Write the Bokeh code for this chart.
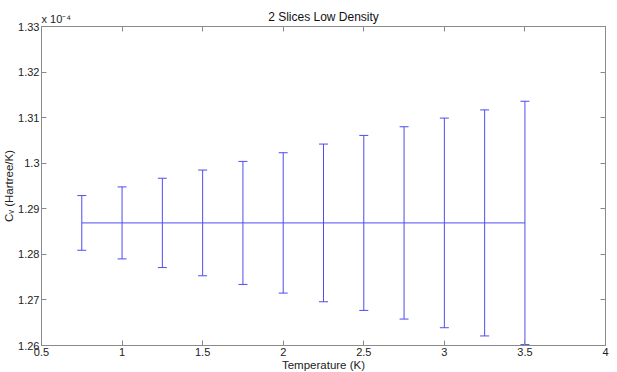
from bokeh.plotting import figure
from bokeh.models import (Range1d, FixedTicker, LinearAxis, Whisker, TeeHead,
                          ColumnDataSource, Label)
from bokeh.embed import file_html
from bokeh.resources import INLINE

# ---- data (Cv in units of 1e-4 Hartree/K) ----
temperature = [0.75, 1.0, 1.25, 1.5, 1.75, 2.0, 2.25, 2.5, 2.75, 3.0, 3.25, 3.5]
cv_mean = [1.2869] * 12
cv_err = [0.0060, 0.0079, 0.0098, 0.0116, 0.0135, 0.0154,
          0.0173, 0.0192, 0.0211, 0.0230, 0.0248, 0.0267]

x_ticks = [0.5, 1.0, 1.5, 2.0, 2.5, 3.0, 3.5, 4.0]
x_tick_labels = ["0.5", "1", "1.5", "2", "2.5", "3", "3.5", "4"]
y_ticks = [1.26, 1.27, 1.28, 1.29, 1.30, 1.31, 1.32, 1.33]
y_tick_labels = ["1.26", "1.27", "1.28", "1.29", "1.3", "1.31", "1.32", "1.33"]

X_MIN, X_MAX = 0.5, 4.0
Y_MIN, Y_MAX = 1.26, 1.33

FONT = "Liberation Sans"
AXIS_COLOR = "#8a8a8a"
LINE_COLOR = "#4d4df0"
TEXT_COLOR = "#222222"

src = ColumnDataSource(dict(
    x=temperature,
    y=cv_mean,
    upper=[m + e for m, e in zip(cv_mean, cv_err)],
    lower=[m - e for m, e in zip(cv_mean, cv_err)],
))

p = figure(frame_width=564, frame_height=319, output_backend="svg", toolbar_location=None,
           x_range=Range1d(X_MIN, X_MAX), y_range=Range1d(Y_MIN, Y_MAX),
           min_border_left=38, min_border_right=7, min_border_top=15,
           min_border_bottom=22)

p.xgrid.visible = False
p.ygrid.visible = False
p.outline_line_color = AXIS_COLOR
p.background_fill_color = "white"
p.border_fill_color = "white"


def style_axis(ax, ticks, labels, show_labels=True):
    ax.ticker = FixedTicker(ticks=ticks)
    ax.major_label_overrides = dict(zip(ticks, labels))
    ax.axis_line_color = AXIS_COLOR
    ax.major_tick_line_color = AXIS_COLOR
    ax.major_tick_in = 5
    ax.major_tick_out = 0
    ax.minor_tick_line_color = None
    ax.major_label_text_font = FONT
    ax.major_label_text_color = TEXT_COLOR
    if show_labels:
        ax.major_label_text_font_size = "11px"
        ax.major_label_standoff = 2
    else:
        ax.major_label_text_font_size = "0px"
        ax.major_label_standoff = 0


style_axis(p.xaxis[0], x_ticks, x_tick_labels)
style_axis(p.yaxis[0], y_ticks, y_tick_labels)
p.xaxis.axis_label = "Temperature (K)"
p.yaxis.axis_label = "Cᵥ (Hartree/K)"
for ax in (p.xaxis[0], p.yaxis[0]):
    ax.axis_label_text_font = FONT
    ax.axis_label_text_font_size = "11.5px"
    ax.axis_label_text_font_style = "normal"
    ax.axis_label_text_color = TEXT_COLOR
    ax.axis_label_standoff = 0

top_ax = LinearAxis()
style_axis(top_ax, x_ticks, x_tick_labels, show_labels=False)
p.add_layout(top_ax, "above")
right_ax = LinearAxis()
style_axis(right_ax, y_ticks, y_tick_labels, show_labels=False)
p.add_layout(right_ax, "right")

# mean line
p.line("x", "y", source=src, line_color=LINE_COLOR, line_width=1)

# error bars
p.add_layout(Whisker(source=src, base="x", upper="upper", lower="lower",
                     line_color=LINE_COLOR, line_width=1,
                     upper_head=TeeHead(size=9, line_color=LINE_COLOR, line_width=1),
                     lower_head=TeeHead(size=9, line_color=LINE_COLOR, line_width=1)))

# title, centred over the frame, just above its top edge
p.add_layout(Label(x=(X_MIN + X_MAX) / 2, y=Y_MAX, text="2 Slices Low Density",
                   y_offset=3, text_font=FONT, text_font_size="12px",
                   text_color="#111111", text_baseline="bottom",
                   text_align="center"), "above")
# exponent multiplier (x 10^-4) above the top-left corner
p.add_layout(Label(x=X_MIN, y=Y_MAX, text="x 10⁻⁴", y_offset=2, x_offset=0,
                   text_font=FONT, text_font_size="11px", text_color=TEXT_COLOR,
                   text_baseline="bottom", text_align="left"), "above")

open("out.html", "w").write(file_html(p, INLINE))
